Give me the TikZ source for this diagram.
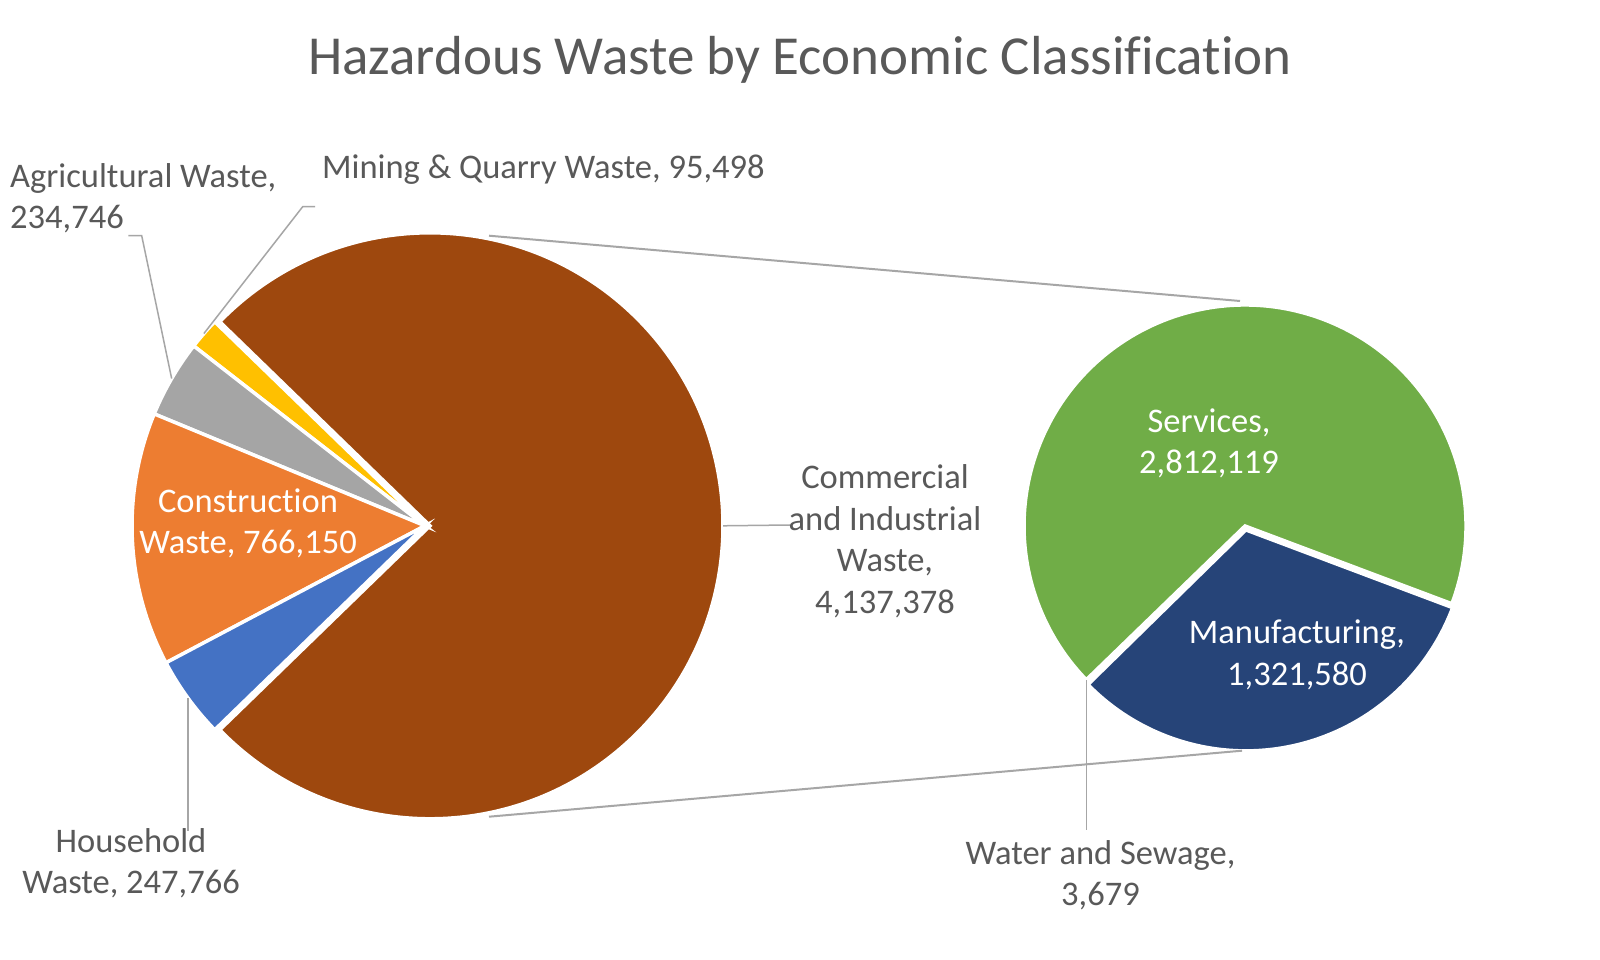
\documentclass[tikz,border=0pt]{standalone}
\usepackage{fontspec}
\setmainfont{Carlito}[Ligatures=NoCommon]
\definecolor{txt}{HTML}{595959}
\definecolor{brownc}{HTML}{9E480E}
\definecolor{orangec}{HTML}{ED7D31}
\definecolor{grayc}{HTML}{A5A5A5}
\definecolor{goldc}{HTML}{FFC000}
\definecolor{bluec}{HTML}{4472C4}
\definecolor{greenc}{HTML}{70AD47}
\definecolor{navyc}{HTML}{264478}
\definecolor{leadc}{HTML}{A6A6A6}
\tikzset{
 pieslc/.style={draw=white, line width=3.5pt},
 lbl/.style={font=\fontsize{34.5}{41.5}\selectfont, text=txt, inner sep=0pt, align=center},
 lblw/.style={lbl, text=white},
 leader/.style={draw=leadc, line width=1.5pt},
 serline/.style={draw=leadc, line width=2pt},
}
\begin{document}
\begin{tikzpicture}[x=1pt,y=1pt]
\useasboundingbox (0,0) rectangle (1600,959);
\fill[white] (0,0) rectangle (1600,959);
% centres
\coordinate (mc) at (430,433.2);
\coordinate (sc) at (425,433.2);
\coordinate (pc) at (1245,433);
\coordinate (nc) at (1245.8,429.1);
% main pie
\filldraw[pieslc, fill=brownc] (mc) -- ++(-135.86:293) arc[start angle=-135.86, end angle=135.86, radius=293] -- cycle;
\filldraw[pieslc, fill=goldc] (sc) -- ++(135.86:293) arc[start angle=135.86, end angle=142.13, radius=293] -- cycle;
\filldraw[pieslc, fill=grayc] (sc) -- ++(142.13:293) arc[start angle=142.13, end angle=157.55, radius=293] -- cycle;
\filldraw[pieslc, fill=orangec] (sc) -- ++(157.55:293) arc[start angle=157.55, end angle=207.87, radius=293] -- cycle;
\filldraw[pieslc, fill=bluec] (sc) -- ++(207.87:293) arc[start angle=207.87, end angle=224.14, radius=293] -- cycle;
% secondary pie
\filldraw[pieslc, fill=greenc] (pc) -- ++(-20.6:221) arc[start angle=-20.6, end angle=224.09, radius=221] -- cycle;
\filldraw[pieslc, fill=navyc] (nc) -- ++(224.41:221) arc[start angle=224.41, end angle=339.4, radius=221] -- cycle;
% leader end points
\path (sc) ++(139:293) coordinate (minpt);
\path (sc) ++(149.84:293) coordinate (agrpt);
\path (sc) ++(216:293) coordinate (houpt);
\path (mc) ++(0:293) coordinate (compt);
\path (pc) ++(224.25:221) coordinate (watpt);
\coordinate (minA) at (302.7,752.3);
\coordinate (minB) at (315,752.3);
\coordinate (agrA) at (141.7,723.3);
\coordinate (agrB) at (128.3,723.3);
\coordinate (houB) at (188,128);
\coordinate (comB) at (790,434);
\coordinate (watB) at (1086.7,129);
\draw[leader] (minB) -- (minA) -- (minpt);
\draw[leader] (agrB) -- (agrA) -- (agrpt);
\draw[leader] (houpt) -- (houpt |- houB);
\draw[leader] (compt) -- (comB);
\draw[leader] (watpt) -- (watpt |- watB);
% series lines
\coordinate (s1a) at (489,723.3);
\coordinate (s1b) at (1240,658);
\coordinate (s2a) at (489,142.3);
\coordinate (s2b) at (1242,208.3);
\draw[serline] (s1a) -- (s1b);
\draw[serline] (s2a) -- (s2b);
% labels
\node[font=\fontsize{55}{66}\selectfont, text=txt, inner sep=0pt, anchor=base] (title) at (800,884) {Hazardous Waste by Economic Classification};
\node[lbl, align=left, anchor=base west] (agr) at (10,730.35) {Agricultural Waste,\\234,746};
\node[lbl, anchor=base west] (min) at (322,780.7) {Mining \& Quarry Waste, 95,498};
\node[lblw, anchor=base] (con) at (248,405.35) {Construction\\Waste, 766,150};
\node[lbl, anchor=base] (com) at (885,345.75) {Commercial\\and Industrial\\Waste,\\4,137,378};
\node[lbl, anchor=base] (hou) at (131,65.05) {Household\\Waste, 247,766};
\node[lblw, anchor=base] (ser) at (1209,485.45) {Services,\\2,812,119};
\node[lblw, anchor=base] (man) at (1297,273.55) {Manufacturing,\\1,321,580};
\node[lbl, anchor=base] (wat) at (1100.5,53.05) {Water and Sewage,\\3,679};
\end{tikzpicture}
\end{document}
